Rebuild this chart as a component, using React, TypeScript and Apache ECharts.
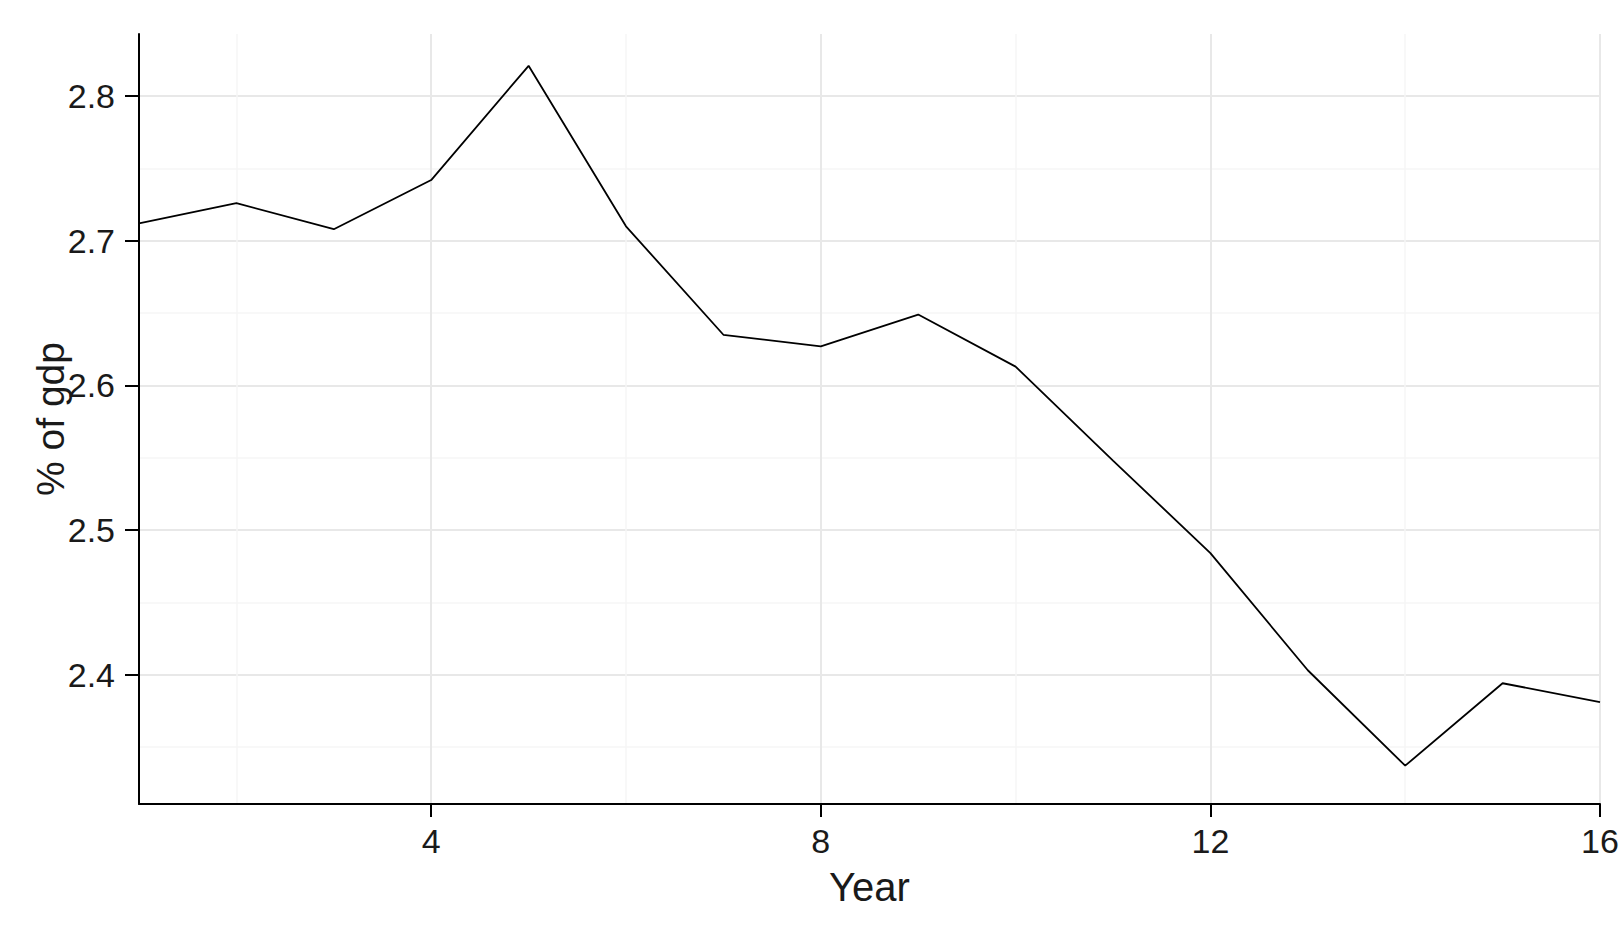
import React, { useEffect, useRef } from "react";
import * as echarts from "echarts";

const years = [1, 2, 3, 4, 5, 6, 7, 8, 9, 10, 11, 12, 13, 14, 15, 16];
const gdpShare = [2.712, 2.726, 2.708, 2.742, 2.821, 2.710, 2.635, 2.627, 2.649, 2.613, 2.548, 2.484, 2.403, 2.337, 2.394, 2.381];
const xTickValues = [4, 8, 12, 16];
const yTickValues = [2.4, 2.5, 2.6, 2.7, 2.8];
const xName = "Year";
const yName = "% of gdp";

const narrowFont = "'Liberation Sans Narrow', 'Arial Narrow', 'Liberation Sans', Arial, sans-serif";
const regularFont = "'Liberation Sans', Arial, sans-serif";
const textColor = "#1a1a1a";

export default function App() {
  const ref = useRef<HTMLDivElement>(null);
  useEffect(() => {
    const chart = echarts.init(ref.current as HTMLDivElement, null, { renderer: "svg" });
    chart.setOption({
      animation: false,
      backgroundColor: "#ffffff",
      grid: { left: 139, right: 22, top: 34, bottom: 123, containLabel: false },
      xAxis: {
        type: "value",
        min: 1,
        max: 16,
        minInterval: 4,
        maxInterval: 4,
        name: xName,
        nameLocation: "middle",
        nameGap: 63,
        nameTextStyle: { fontFamily: regularFont, fontSize: 40, color: textColor },
        axisLine: { show: true, onZero: false, lineStyle: { color: "#000", width: 2 } },
        axisTick: { show: true, length: 13, customValues: xTickValues, lineStyle: { color: "#000", width: 2 } },
        axisLabel: { customValues: xTickValues, margin: 20, fontFamily: narrowFont, fontSize: 34, color: textColor },
        splitLine: { show: true, lineStyle: { color: "#e8e8e8", width: 2 } },
        minorTick: { show: false, splitNumber: 2 },
        minorSplitLine: { show: true, lineStyle: { color: "#f6f6f6", width: 1.5 } },
      },
      yAxis: {
        type: "value",
        min: 2.3105,
        max: 2.843,
        minInterval: 0.1,
        maxInterval: 0.1,
        name: yName,
        nameLocation: "middle",
        nameGap: 69,
        nameMoveOverlap: false,
        nameRotate: 90,
        nameTextStyle: { fontFamily: regularFont, fontSize: 39, color: textColor },
        axisLine: { show: true, onZero: false, lineStyle: { color: "#000", width: 2 } },
        axisTick: { show: true, length: 14, customValues: yTickValues, lineStyle: { color: "#000", width: 2 } },
        axisLabel: { customValues: yTickValues, margin: 24, fontFamily: narrowFont, fontSize: 34, color: textColor },
        splitLine: { show: true, lineStyle: { color: "#e8e8e8", width: 2 } },
        minorTick: { show: false, splitNumber: 2 },
        minorSplitLine: { show: true, lineStyle: { color: "#f6f6f6", width: 1.5 } },
      },
      series: [
        {
          type: "line",
          data: years.map((y, i) => [y, gdpShare[i]]),
          showSymbol: false,
          symbol: "none",
          lineStyle: { color: "#000", width: 1.8 },
          z: 5,
        },
      ],
    });
    return () => chart.dispose();
  }, []);
  return <div ref={ref} style={{ position: "fixed", left: 0, top: 0, width: 1622, height: 927 }} />;
}
